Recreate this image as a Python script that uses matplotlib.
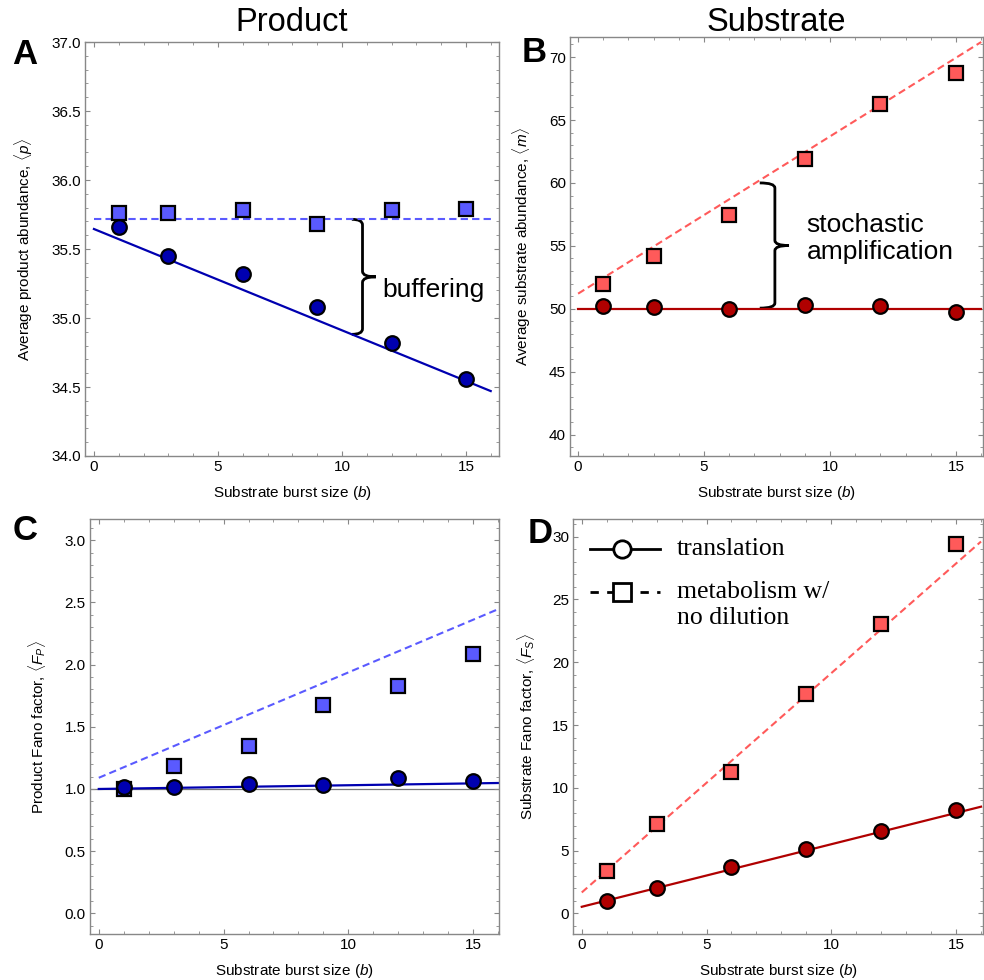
"""
Four-panel figure: product / substrate abundance and Fano factor vs substrate burst size.
"""
import matplotlib
matplotlib.use("Agg")
import matplotlib.pyplot as plt
import numpy as np
from matplotlib.lines import Line2D
from matplotlib.path import Path
from matplotlib.patches import PathPatch
from matplotlib.ticker import MultipleLocator, FormatStrFormatter

plt.rcParams["font.family"] = ["Liberation Sans", "DejaVu Sans"]
plt.rcParams["mathtext.fontset"] = "custom"
plt.rcParams["mathtext.rm"] = "Liberation Sans"
plt.rcParams["mathtext.it"] = "Liberation Sans:italic"

# =============================================================================
# Data
# =============================================================================
burst = [1, 3, 6, 9, 12, 15]

prod_mean_trans = [35.66, 35.45, 35.32, 35.08, 34.82, 34.56]
prod_mean_metab = [35.76, 35.76, 35.78, 35.68, 35.78, 35.79]
sub_mean_trans = [50.20, 50.14, 50.00, 50.30, 50.20, 49.72]
sub_mean_metab = [51.97, 54.20, 57.42, 61.87, 66.25, 68.70]
prod_fano_trans = [1.018, 1.015, 1.036, 1.030, 1.090, 1.063]
prod_fano_metab = [1.000, 1.186, 1.347, 1.674, 1.827, 2.087]
sub_fano_trans = [1.01, 1.99, 3.66, 5.12, 6.56, 8.23]
sub_fano_metab = [3.40, 7.09, 11.23, 17.50, 23.04, 29.39]

# theory lines: (intercept, slope)
theory_b = [0, 16]
prod_mean_trans_fit = (35.645, -0.0734)
prod_mean_metab_fit = (35.715, 0.0)
sub_mean_trans_fit = (50.0, 0.0)
sub_mean_metab_fit = (51.2, 1.25)
prod_fano_trans_fit = (1.0, 0.003)
prod_fano_metab_fit = (1.09, 0.0847)
sub_fano_trans_fit = (0.53, 0.498)
sub_fano_metab_fit = (1.67, 1.746)

BLUE_DARK = "#0000b0"
BLUE_LIGHT = "#5a5aff"
RED_DARK = "#b00000"
RED_LIGHT = "#ff5a5a"
FRAME = "#888888"


def line_vals(fit, xs):
    return [fit[0] + fit[1] * x for x in xs]


def style_axes(ax, xlim, ylim, ymajor, yminor, yfmt):
    ax.set_xlim(*xlim)
    ax.set_ylim(*ylim)
    ax.xaxis.set_major_locator(MultipleLocator(5))
    ax.xaxis.set_minor_locator(MultipleLocator(1))
    ax.yaxis.set_major_locator(MultipleLocator(ymajor))
    ax.yaxis.set_minor_locator(MultipleLocator(yminor))
    ax.yaxis.set_major_formatter(FormatStrFormatter(yfmt))
    for sp in ax.spines.values():
        sp.set_color(FRAME)
        sp.set_linewidth(1.0)
    ax.tick_params(which="both", direction="in", top=True, right=True,
                   color=FRAME, labelsize=11, pad=3)
    ax.tick_params(which="major", length=3.8, width=0.8)
    ax.tick_params(which="minor", length=2.2, width=0.6)
    ax.set_xlabel("Substrate burst size ($b$)", fontsize=11)
    ax.xaxis.set_label_coords(0.5, -0.068)


def draw_brace(ax, x, y_lo, y_hi, w_out, w_tip, r):
    ym = 0.5 * (y_lo + y_hi)
    verts = [(x - w_out, y_lo), (x, y_lo), (x, y_lo + r),
             (x, ym - r), (x, ym), (x + w_tip, ym),
             (x, ym), (x, ym + r),
             (x, y_hi - r), (x, y_hi), (x - w_out, y_hi)]
    codes = [Path.MOVETO, Path.CURVE3, Path.CURVE3,
             Path.LINETO, Path.CURVE3, Path.CURVE3,
             Path.CURVE3, Path.CURVE3,
             Path.LINETO, Path.CURVE3, Path.CURVE3]
    ax.add_patch(PathPatch(Path(verts, codes), fill=False, lw=2.0,
                           edgecolor="black", capstyle="butt"))


def plot_pair(ax, trans, metab, trans_fit, metab_fit, dark, light):
    ax.plot(theory_b, line_vals(trans_fit, theory_b), color=dark, lw=1.6, zorder=2)
    ax.plot(theory_b, line_vals(metab_fit, theory_b), color=light, lw=1.5,
            linestyle=(0, (3.5, 2)), zorder=2)
    ax.plot(burst, metab, linestyle="none", marker="s", markersize=9.5,
            markerfacecolor=light, markeredgecolor="black", markeredgewidth=1.6,
            zorder=3)
    ax.plot(burst, trans, linestyle="none", marker="o", markersize=10.5,
            markerfacecolor=dark, markeredgecolor="black", markeredgewidth=1.6,
            zorder=4)


fig = plt.figure(figsize=(9.84, 9.80), dpi=100)
axA = fig.add_axes([0.0864, 0.5347, 0.4206, 0.4224])
axB = fig.add_axes([0.5793, 0.5347, 0.4197, 0.4276])
axC = fig.add_axes([0.0915, 0.0469, 0.4155, 0.4235])
axD = fig.add_axes([0.5826, 0.0469, 0.4164, 0.4235])

# --- A: product abundance
plot_pair(axA, prod_mean_trans, prod_mean_metab, prod_mean_trans_fit,
          prod_mean_metab_fit, BLUE_DARK, BLUE_LIGHT)
style_axes(axA, (-0.36, 16.33), (34.0, 37.0), 0.5, 0.1, "%.1f")
axA.set_ylabel(r"Average product abundance, $\langle p\rangle$", fontsize=11)
axA.yaxis.set_label_coords(-0.121, 0.5)
bx = 10.83
draw_brace(axA, bx, line_vals(prod_mean_trans_fit, [bx - 0.43])[0],
           line_vals(prod_mean_metab_fit, [bx])[0], 0.43, 0.54, 0.04)
axA.text(11.64, 35.20, "buffering", fontsize=19, ha="left", va="center")

# --- B: substrate abundance
plot_pair(axB, sub_mean_trans, sub_mean_metab, sub_mean_trans_fit,
          sub_mean_metab_fit, RED_DARK, RED_LIGHT)
style_axes(axB, (-0.32, 16.07), (38.3, 71.6), 5, 1, "%d")
axB.set_ylabel(r"Average substrate abundance, $\langle m\rangle$", fontsize=11)
axB.yaxis.set_label_coords(-0.0896, 0.5)
draw_brace(axB, 7.81, 50.05, 60.0, 0.6, 0.56, 0.4)
axB.text(9.07, 55.6, "stochastic\namplification", fontsize=19, ha="left",
         va="center", linespacing=1.15)

# --- C: product Fano factor
axC.axhline(1.0, color="#777777", lw=0.9, zorder=1)
plot_pair(axC, prod_fano_trans, prod_fano_metab, prod_fano_trans_fit,
          prod_fano_metab_fit, BLUE_DARK, BLUE_LIGHT)
style_axes(axC, (-0.35, 16.03), (-0.166, 3.17), 0.5, 0.1, "%.1f")
axC.set_ylabel(r"Product Fano factor, $\langle F_P\rangle$", fontsize=11)
axC.yaxis.set_label_coords(-0.103, 0.5)

# --- D: substrate Fano factor
plot_pair(axD, sub_fano_trans, sub_fano_metab, sub_fano_trans_fit,
          sub_fano_metab_fit, RED_DARK, RED_LIGHT)
style_axes(axD, (-0.34, 16.08), (-1.64, 31.4), 5, 1, "%d")
axD.set_ylabel(r"Substrate Fano factor, $\langle F_S\rangle$", fontsize=11)
axD.yaxis.set_label_coords(-0.088, 0.5)

# legend drawn by hand (handle aligned with first text line)
serif = ["Liberation Serif", "DejaVu Serif"]
axD.add_line(Line2D([0.041, 0.212], [0.928, 0.928], transform=axD.transAxes,
                    color="black", lw=2))
axD.add_line(Line2D([0.119], [0.928], transform=axD.transAxes, marker="o",
                    markersize=12.5, markerfacecolor="white",
                    markeredgecolor="black", markeredgewidth=2))
axD.add_line(Line2D([0.041, 0.212], [0.824, 0.824], transform=axD.transAxes,
                    color="black", lw=2, linestyle=(0, (3, 3))))
axD.add_line(Line2D([0.119], [0.824], transform=axD.transAxes, marker="s",
                    markersize=12.5, markerfacecolor="white",
                    markeredgecolor="black", markeredgewidth=2))
axD.text(0.253, 0.928, "translation", transform=axD.transAxes, fontsize=18.5,
         family=serif, ha="left", va="center")
axD.text(0.253, 0.824, "metabolism w/", transform=axD.transAxes, fontsize=18.5,
         family=serif, ha="left", va="center")
axD.text(0.253, 0.762, "no dilution", transform=axD.transAxes, fontsize=18.5,
         family=serif, ha="left", va="center")

# column titles and panel letters
fig.text(0.2967, 0.977, "Product", fontsize=23.5, ha="center", va="center")
fig.text(0.7886, 0.977, "Substrate", fontsize=23.5, ha="center", va="center")
for letter, (x, y) in zip("ABCD", [(0.0254, 0.944), (0.5427, 0.946),
                                  (0.0254, 0.459), (0.5488, 0.456)]):
    fig.text(x, y, letter, fontsize=25, fontweight="bold", ha="center",
             va="center")

fig.savefig("out.png", dpi=100)
